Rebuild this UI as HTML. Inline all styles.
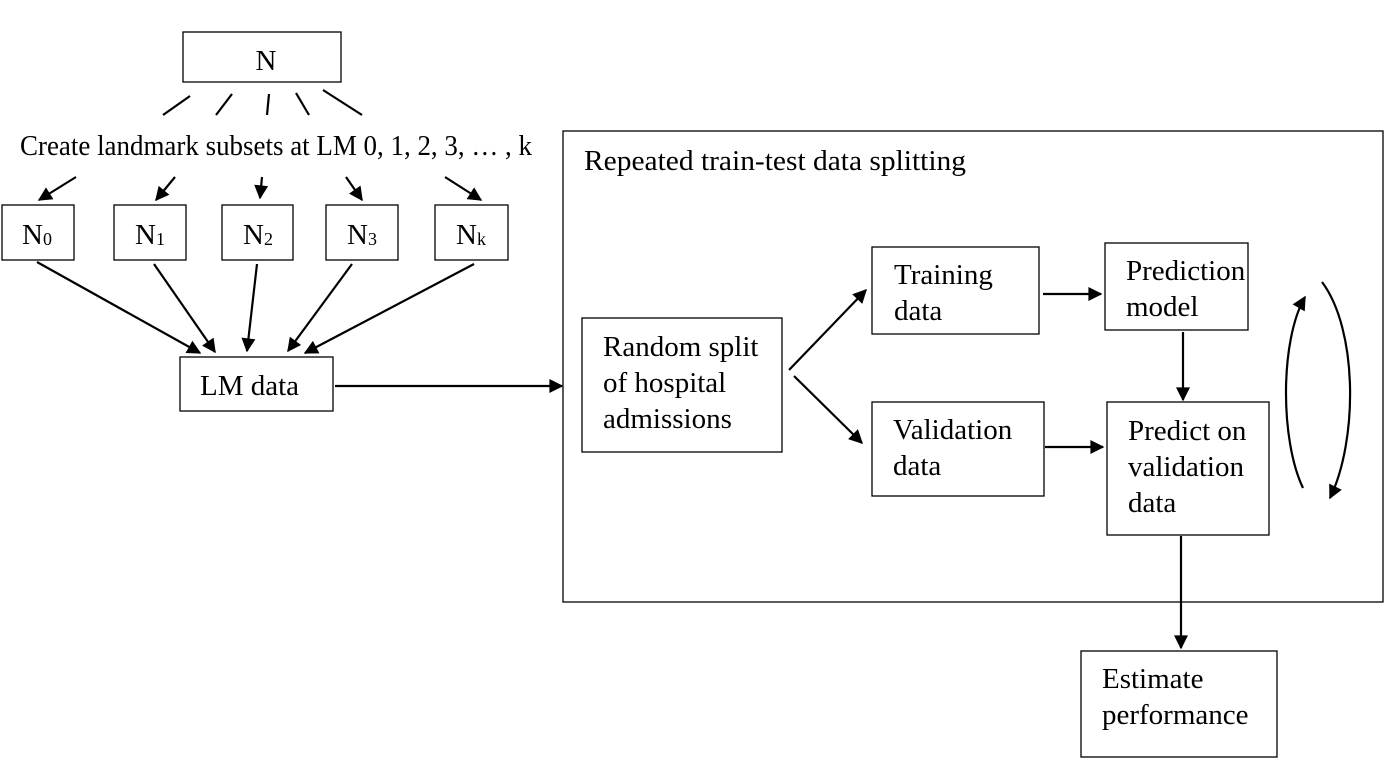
<!DOCTYPE html>
<html><head><meta charset="utf-8"><style>
html,body{margin:0;padding:0;background:#fff;}
svg{display:block;}
text{font-family:"Liberation Serif",serif;font-size:29px;fill:#000;}
</style></head><body>
<svg width="1386" height="764" viewBox="0 0 1386 764" xmlns="http://www.w3.org/2000/svg">
<defs>
<marker id="b" viewBox="0 0 10 10" refX="9" refY="5" markerWidth="16" markerHeight="14" markerUnits="userSpaceOnUse" orient="auto">
<path d="M0,0 L10,5 L0,10 z" fill="#000"/></marker>
</defs>
<g fill="none" stroke="#000" stroke-width="1.3">
<rect x="183" y="32" width="158" height="50"/>
<rect x="2" y="205" width="72" height="55"/>
<rect x="114" y="205" width="72" height="55"/>
<rect x="222" y="205" width="71" height="55"/>
<rect x="326" y="205" width="72" height="55"/>
<rect x="435" y="205" width="73" height="55"/>
<rect x="180" y="357" width="153" height="54"/>
<rect x="563" y="131" width="820" height="471"/>
<rect x="582" y="318" width="200" height="134"/>
<rect x="872" y="247" width="167" height="87"/>
<rect x="872" y="402" width="172" height="94"/>
<rect x="1105" y="243" width="143" height="87"/>
<rect x="1107" y="402" width="162" height="133"/>
<rect x="1081" y="651" width="196" height="106"/>
</g>
<g stroke="#000" stroke-width="2.2" fill="none">
<line x1="190" y1="96" x2="163" y2="115"/>
<line x1="232" y1="94" x2="216" y2="115"/>
<line x1="269" y1="94" x2="267" y2="115"/>
<line x1="296" y1="93" x2="309" y2="115"/>
<line x1="323" y1="90" x2="362" y2="115"/>
<line x1="76" y1="177" x2="39" y2="200" marker-end="url(#b)"/>
<line x1="175" y1="177" x2="156" y2="200" marker-end="url(#b)"/>
<line x1="262" y1="177" x2="260" y2="198" marker-end="url(#b)"/>
<line x1="346" y1="177" x2="362" y2="200" marker-end="url(#b)"/>
<line x1="445" y1="177" x2="481" y2="200" marker-end="url(#b)"/>
<line x1="37" y1="262" x2="200" y2="353" marker-end="url(#b)"/>
<line x1="154" y1="264" x2="215" y2="352" marker-end="url(#b)"/>
<line x1="257" y1="264" x2="247" y2="351" marker-end="url(#b)"/>
<line x1="352" y1="264" x2="288" y2="351" marker-end="url(#b)"/>
<line x1="474" y1="264" x2="305" y2="353" marker-end="url(#b)"/>
<line x1="335" y1="386" x2="562" y2="386" marker-end="url(#b)"/>
<line x1="789" y1="370" x2="866" y2="290" marker-end="url(#b)"/>
<line x1="794" y1="376" x2="862" y2="443" marker-end="url(#b)"/>
<line x1="1043" y1="294" x2="1101" y2="294" marker-end="url(#b)"/>
<line x1="1045" y1="447" x2="1103" y2="447" marker-end="url(#b)"/>
<line x1="1183" y1="332" x2="1183" y2="400" marker-end="url(#b)"/>
<line x1="1181" y1="536" x2="1181" y2="648" marker-end="url(#b)"/>
<path d="M1303,488 C1280,440 1280,340 1305,297" marker-end="url(#b)"/>
<path d="M1322,282 C1358,330 1358,440 1330,498" marker-end="url(#b)"/>
</g>
<text x="266" y="70" text-anchor="middle" font-size="28">N</text>
<text x="20" y="155" font-size="26" textLength="512" lengthAdjust="spacingAndGlyphs">Create landmark subsets at LM 0, 1, 2, 3, … , k</text>
<text x="22" y="244" font-size="28">N<tspan font-size="18" dy="1">0</tspan></text>
<text x="135" y="244" font-size="28">N<tspan font-size="18" dy="1">1</tspan></text>
<text x="243" y="244" font-size="28">N<tspan font-size="18" dy="1">2</tspan></text>
<text x="347" y="244" font-size="28">N<tspan font-size="18" dy="1">3</tspan></text>
<text x="456" y="244" font-size="28">N<tspan font-size="18" dy="1">k</tspan></text>
<text x="200" y="395" font-size="28">LM data</text>
<text x="584" y="170" font-size="27" textLength="382" lengthAdjust="spacingAndGlyphs">Repeated train-test data splitting</text>
<text x="603" y="356">Random split</text>
<text x="603" y="392">of hospital</text>
<text x="603" y="428">admissions</text>
<text x="894" y="284">Training</text>
<text x="894" y="320">data</text>
<text x="893" y="439">Validation</text>
<text x="893" y="475">data</text>
<text x="1126" y="280">Prediction</text>
<text x="1126" y="316">model</text>
<text x="1128" y="440">Predict on</text>
<text x="1128" y="476">validation</text>
<text x="1128" y="512">data</text>
<text x="1102" y="688">Estimate</text>
<text x="1102" y="724">performance</text>
</svg>
</body></html>
